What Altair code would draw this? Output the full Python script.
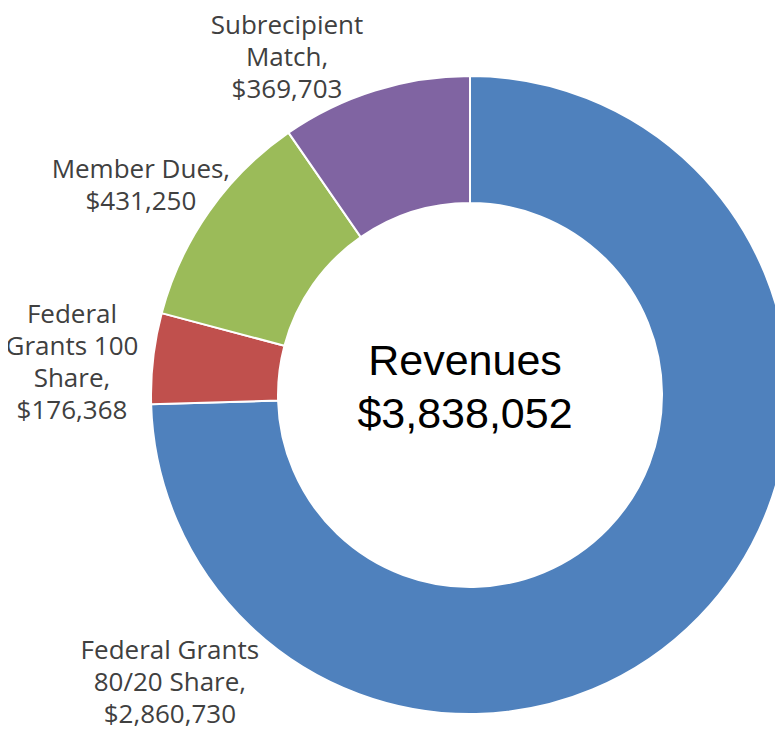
import math
import altair as alt
import pandas as pd

# ---- data ----
categories = ["Federal Grants 80/20 Share", "Federal Grants 100 Share", "Member Dues", "Subrecipient Match"]
values = [2860730, 176368, 431250, 369703]
colors = ["#4F81BD", "#C0504D", "#9BBB59", "#8064A2"]
label_lines = [
    ["Federal Grants", "80/20 Share,", "$2,860,730"],
    ["Federal", "Grants 100", "Share,", "$176,368"],
    ["Member Dues,", "$431,250"],
    ["Subrecipient", "Match,", "$369,703"],
]
center_title = "Revenues"
center_total = "$3,838,052"

df = pd.DataFrame({
    "category": categories,
    "value": values,
    "order": list(range(len(categories))),
    "label": ["\n".join(lines) for lines in label_lines],
})

# ---- layout (label placement: degrees clockwise from 12 o'clock, px from centre) ----
label_place = {
    "Federal Grants 80/20 Share": (229.5, 394.7),
    "Federal Grants 100 Share": (281.3, 405.9),
    "Member Dues": (304.4, 398.9),
    "Subrecipient Match": (333.65, 412.3),
}

base = alt.Chart(df)

arcs = base.mark_arc(outerRadius=319, innerRadius=192, stroke="white", strokeWidth=2).encode(
    theta=alt.Theta("value:Q", stack=True),
    color=alt.Color("category:N", scale=alt.Scale(domain=categories, range=colors), legend=None),
    order=alt.Order("order:Q"),
)

layers = [arcs]
for cat, (ang, r) in label_place.items():
    layers.append(
        base.transform_filter(alt.datum.category == cat)
        .mark_text(font="Open Sans", fontSize=26, lineHeight=32, color="#404040",
                   lineBreak="\n", align="center", baseline="middle")
        .encode(text="label:N", theta=alt.value(math.radians(ang)), radius=alt.value(r))
    )

center = alt.Chart(alt.Data(values=[{"t": center_title + "\n" + center_total}])).mark_text(
    font="Liberation Sans", fontSize=43, lineHeight=53, color="#000000",
    lineBreak="\n", align="center", baseline="middle", dx=-5, dy=-33,
).encode(text="t:N")
layers.append(center)

chart = alt.layer(*layers).properties(
    width=600,
    height=640,
    autosize=alt.AutoSizeParams(type="none"),
    padding={"left": 162, "top": 67, "right": 5, "bottom": 13},
).configure_view(stroke=None)

chart.save("out.html", embed_options={"renderer": "svg", "actions": False})
